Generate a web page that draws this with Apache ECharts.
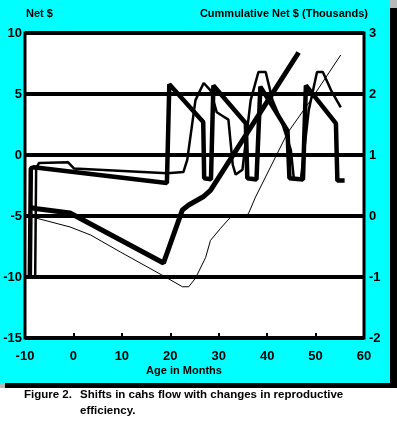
<!DOCTYPE html>
<html>
<head>
<meta charset="utf-8">
<script src="https://cdn.jsdelivr.net/npm/echarts@6/dist/echarts.min.js"></script>
<style>
  html, body { margin: 0; padding: 0; background: #fff; }
  #chart { width: 397px; height: 423px; }
</style>
</head>
<body>
<div id="chart"></div>
<script>
'use strict'

// Net $ per month, scenario 1 (thick line) - [age, net $]
const netThick = [[-9.0, -10], [-8.8, -1.1], [-8.2, -1.0], [19.3, -2.3], [19.8, 5.8], [26.8, 2.7],
  [27.0, -1.9], [28.4, -2.0], [28.9, 5.7], [35.6, 2.6], [35.9, -1.9], [37.8, -2.0], [38.6, 5.6],
  [44.2, 2.0], [44.6, -1.9], [47.4, -2.0], [48.0, 5.7], [54.2, 2.6], [54.5, -2.1], [56.0, -2.1]]

// Net $ per month, scenario 2 (medium line)
const netMedium = [[-7.9, -10], [-7.7, -1.1], [-7.1, -0.65], [-1.1, -0.6], [0.1, -1.1], [19.4, -1.5],
  [22.7, -1.4], [23.5, -0.4], [25.2, 4.5], [26.9, 5.9], [28.3, 5.3], [29.6, 3.5], [30.8, 3.2],
  [32.0, 2.9], [32.9, -0.8], [33.5, -1.6], [34.9, -1.2], [36.6, 4.5], [38.2, 6.8], [39.7, 6.8],
  [41.1, 4.5], [43.2, 2.5], [44.9, 0.4], [45.5, -1.9], [47.0, -1.9], [48.6, 3.7], [50.3, 6.8],
  [51.5, 6.8], [53.2, 5.3], [55.2, 3.9]]

// Cumulative net $ (thousands), scenario 1 (thick line)
const cumThick = [[-9.0, 0.14], [-7.5, 0.12], [-0.7, 0.05], [18.6, -0.77], [22.5, 0.1], [23.8, 0.18],
  [26.9, 0.32], [28.3, 0.42], [46.5, 2.68]]

// Cumulative net $ (thousands), scenario 2 (thin line)
const cumThin = [[-7.9, -0.03], [-0.7, -0.18], [3.5, -0.31], [9.7, -0.59], [19.0, -1.0], [22.5, -1.16],
  [23.8, -1.16], [25.2, -1.02], [27.3, -0.68], [28.3, -0.4], [30.4, -0.2], [32.9, 0.02], [34.6, 0.02],
  [35.4, -0.03], [36.2, 0.05], [37.6, 0.31], [44.2, 1.36], [49.0, 1.9], [55.2, 2.64]]

const font = '"Liberation Sans", Arial, sans-serif'
const lbl = { color: '#000', fontFamily: font, fontWeight: 'bold', fontSize: 13 }

function line (data, width, axis) {
  return {
    type: 'line', data: data, yAxisIndex: axis, symbol: 'none',
    lineStyle: { color: '#000', width: width }, z: 3, animation: false
  }
}

const chart = echarts.init(document.getElementById('chart'))
chart.setOption({
  backgroundColor: '#00ffff',
  animation: false,
  grid: {
    left: 25, right: 33, top: 33, bottom: 85,
    show: true, backgroundColor: '#fff', borderColor: '#000', borderWidth: 3
  },
  xAxis: {
    type: 'value', min: -10, max: 60, interval: 10,
    axisLine: { show: false, onZero: false },
    axisTick: { show: true, inside: true, length: 5, lineStyle: { color: '#000', width: 2 } },
    axisLabel: Object.assign({ margin: 12 }, lbl),
    splitLine: { show: false }
  },
  yAxis: [{
    type: 'value', min: -15, max: 10, interval: 5,
    axisLine: { show: false }, axisTick: { show: false },
    axisLabel: Object.assign({ margin: 3 }, lbl),
    splitLine: { show: true, lineStyle: { color: '#000', width: 4 } }
  }, {
    type: 'value', min: -2, max: 3, interval: 1, position: 'right',
    axisLine: { show: false }, axisTick: { show: false },
    axisLabel: Object.assign({ margin: 5 }, lbl),
    splitLine: { show: false }
  }],
  graphic: [
    { type: 'rect', shape: { x: 0, y: 388, width: 397, height: 35 }, style: { fill: '#fff' } },
    { type: 'rect', shape: { x: 390, y: 0, width: 7, height: 8 }, style: { fill: '#b8b8b8' } },
    { type: 'rect', shape: { x: 390, y: 8, width: 7, height: 380 }, style: { fill: '#000' } },
    { type: 'rect', shape: { x: 0, y: 383, width: 5, height: 5 }, style: { fill: '#b8b8b8' } },
    { type: 'rect', shape: { x: 5, y: 383, width: 392, height: 5 }, style: { fill: '#000' } },
    { type: 'text', x: 26, y: 14, style: { text: 'Net $', fill: '#000', font: 'bold 11px ' + font, verticalAlign: 'middle' } },
    { type: 'text', x: 368, y: 14, style: { text: 'Cummulative Net $ (Thousands)', fill: '#000', font: 'bold 11px ' + font, align: 'right', verticalAlign: 'middle' } },
    { type: 'text', x: 184, y: 371, style: { text: 'Age in Months', fill: '#000', font: 'bold 11px ' + font, align: 'center', verticalAlign: 'middle' } },
    { type: 'text', x: 24, y: 395, z: 10, style: { text: 'Figure 2.', fill: '#000', font: 'bold 11.5px ' + font, verticalAlign: 'middle' } },
    { type: 'text', x: 80, y: 395, z: 10, style: { text: 'Shifts in cahs flow with changes in reproductive', fill: '#000', font: 'bold 11.5px ' + font, verticalAlign: 'middle' } },
    { type: 'text', x: 80, y: 411, z: 10, style: { text: 'efficiency.', fill: '#000', font: 'bold 11.5px ' + font, verticalAlign: 'middle' } }
  ],
  series: [
    line(netThick, 4.5, 0),
    line(netMedium, 2.5, 0),
    line(cumThick, 5, 1),
    line(cumThin, 1, 1)
  ]
})
</script>
</body>
</html>
